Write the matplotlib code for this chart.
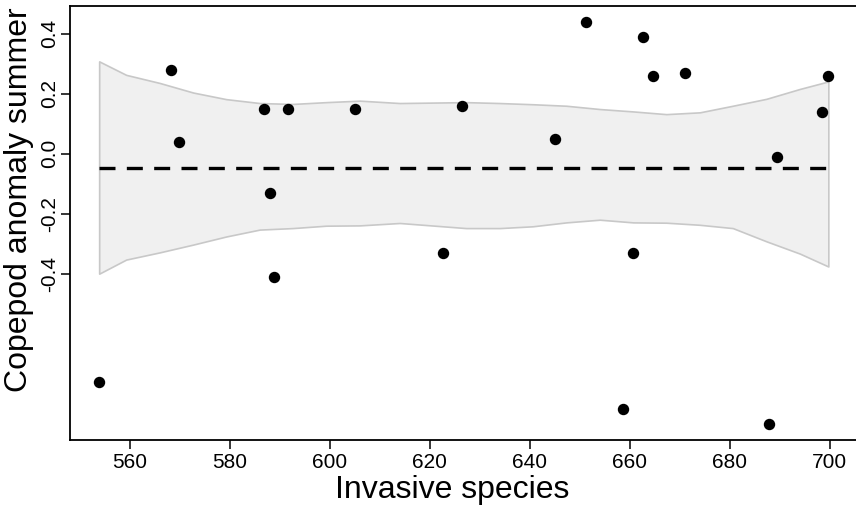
import numpy as np
import matplotlib
matplotlib.use('Agg')
import matplotlib.pyplot as plt

plt.rcParams['font.family'] = ['Liberation Sans', 'DejaVu Sans']

# observed points
invasive = [553.9, 568.3, 569.8, 586.9, 591.7, 588.0, 588.8, 605.1, 626.5, 622.6,
            645.1, 651.2, 662.7, 664.7, 671.1, 660.6, 689.5, 698.4, 699.7, 658.7, 687.9]
copepod = [-0.762, 0.279, 0.039, 0.149, 0.149, -0.131, -0.412, 0.149, 0.159, -0.332,
           0.050, 0.439, 0.389, 0.259, 0.270, -0.332, -0.010, 0.139, 0.259, -0.852, -0.901]

# confidence band of the fit
band_x = [553.9, 559.3, 566.0, 572.7, 579.3, 586.0, 592.6, 599.3, 606.0, 614.0, 627.3,
          634.0, 640.6, 647.3, 654.0, 660.7, 667.3, 674.0, 680.6, 687.3, 694.0, 699.7]
band_hi = [0.308, 0.263, 0.236, 0.204, 0.182, 0.169, 0.166, 0.172, 0.177, 0.169, 0.172,
           0.169, 0.165, 0.160, 0.149, 0.141, 0.132, 0.138, 0.160, 0.183, 0.216, 0.241]
band_lo = [-0.400, -0.353, -0.329, -0.303, -0.276, -0.253, -0.248, -0.240, -0.239, -0.231, -0.248,
           -0.248, -0.242, -0.229, -0.220, -0.229, -0.230, -0.237, -0.248, -0.292, -0.333, -0.376]

fit = np.mean(copepod)

fig = plt.figure(figsize=(8.56, 5.12), dpi=100)
ax = fig.add_axes([70 / 856, 1 - 440 / 512, 787.5 / 856, 434 / 512])

ax.fill_between(band_x, band_lo, band_hi, facecolor='#f0f0f0', edgecolor='#c8c8c8', linewidth=1.2)
ax.plot([band_x[0], band_x[-1]], [fit, fit], color='black', linewidth=2.4, linestyle=(0, (4.8, 3.4)))
ax.plot(invasive, copepod, 'o', color='black', markersize=7.2)

# R style 4% padding
xr = max(invasive) - min(invasive)
yr = max(copepod) - min(copepod)
ax.set_xlim(min(invasive) - 0.04 * xr, max(invasive) + 0.04 * xr)
ax.set_ylim(min(copepod) - 0.04 * yr, max(copepod) + 0.04 * yr)

ax.set_xticks([560, 580, 600, 620, 640, 660, 680, 700])
ax.set_yticks([-0.4, -0.2, 0.0, 0.2, 0.4])
ax.set_yticklabels(['-0.4', '-0.2', '0.0', '0.2', '0.4'], rotation=90, va='center')
ax.tick_params(axis='both', length=6.5, width=1.1, labelsize=15, color='black')
ax.tick_params(axis='y', pad=1.5)
ax.tick_params(axis='x', pad=3)

for s in ['left', 'bottom', 'top']:
    ax.spines[s].set_linewidth(1.3)
ax.spines['right'].set_visible(False)

ax.set_xlabel('Invasive species', fontsize=23, labelpad=2)
ax.set_ylabel('Copepod anomaly summer', fontsize=23, labelpad=4)
ax.xaxis.label.set_x(0.485)
ax.yaxis.label.set_y(0.553)

fig.savefig('out.png', dpi=100)
